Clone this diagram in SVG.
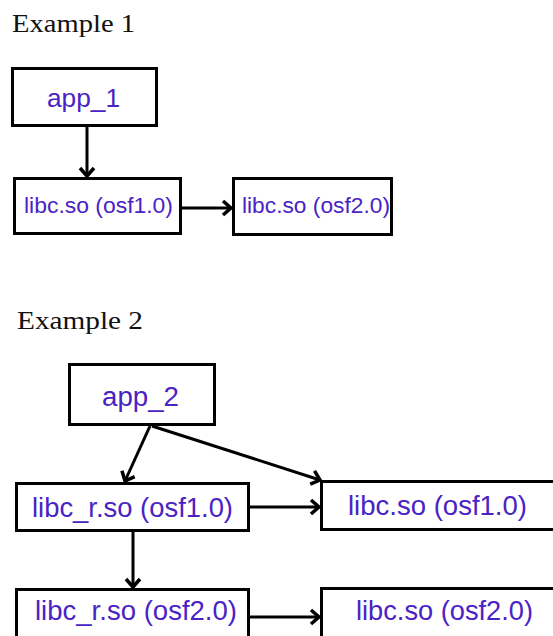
<svg xmlns="http://www.w3.org/2000/svg" width="553" height="636" viewBox="0 0 553 636">
<style>
.box{fill:#fff;stroke:#000;stroke-width:3}
.lbl{font-family:"Liberation Sans",Arial,sans-serif;fill:#4a23c4}
.hd{font-family:"Liberation Serif","Times New Roman",serif;fill:#111;font-size:25px}
.con line{stroke:#000;stroke-width:3;marker-end:url(#ah)}
</style>
<defs>
<marker id="ah" markerUnits="userSpaceOnUse" markerWidth="20" markerHeight="20" refX="0" refY="0" viewBox="-12 -10 14 20" orient="auto" overflow="visible">
<path d="M-8,-7 L0,0 L-8,7" fill="none" stroke="#000" stroke-width="3.5"/>
</marker>
</defs>
<rect width="553" height="636" fill="#fff"/>
<text class="hd" x="12" y="32" textLength="123" lengthAdjust="spacingAndGlyphs">Example 1</text>
<text class="hd" x="17" y="329" textLength="126" lengthAdjust="spacingAndGlyphs">Example 2</text>
<g class="con" id="connectors">
<line x1="87" y1="127" x2="87" y2="176"/>
<line x1="182" y1="208" x2="231" y2="208"/>
<line x1="150" y1="426" x2="125" y2="481"/>
<line x1="152" y1="426" x2="320" y2="480"/>
<line x1="250" y1="507" x2="319" y2="507"/>
<line x1="133" y1="532" x2="133" y2="587"/>
<line x1="250" y1="617" x2="319" y2="617"/>
</g>
<g id="app_1"><rect class="box" x="12.5" y="68.5" width="144" height="57"/><text class="lbl" x="47" y="107" font-size="26" textLength="73" lengthAdjust="spacingAndGlyphs">app_1</text></g>
<g id="libc_osf1_ex1"><rect class="box" x="14.5" y="178.5" width="166" height="55"/><text class="lbl" x="24" y="213" font-size="22" textLength="149" lengthAdjust="spacingAndGlyphs">libc.so (osf1.0)</text></g>
<g id="libc_osf2_ex1"><rect class="box" x="233.5" y="178.5" width="158" height="56"/><text class="lbl" x="242" y="213" font-size="22" textLength="148" lengthAdjust="spacingAndGlyphs">libc.so (osf2.0)</text></g>
<g id="app_2"><rect class="box" x="69.5" y="364.5" width="145" height="60"/><text class="lbl" x="102" y="406" font-size="27" textLength="77" lengthAdjust="spacingAndGlyphs">app_2</text></g>
<g id="libc_r_osf1"><rect class="box" x="16.5" y="483.5" width="232" height="47"/><text class="lbl" x="32" y="517" font-size="27" textLength="201" lengthAdjust="spacingAndGlyphs">libc_r.so (osf1.0)</text></g>
<g id="libc_osf1_ex2"><rect class="box" x="321.5" y="481.5" width="240" height="48"/><text class="lbl" x="348" y="515" font-size="27" textLength="179" lengthAdjust="spacingAndGlyphs">libc.so (osf1.0)</text></g>
<g id="libc_r_osf2"><rect class="box" x="16.5" y="589.5" width="232" height="60"/><text class="lbl" x="35" y="620" font-size="27" textLength="202" lengthAdjust="spacingAndGlyphs">libc_r.so (osf2.0)</text></g>
<g id="libc_osf2_ex2"><rect class="box" x="321.5" y="588.5" width="240" height="60"/><text class="lbl" x="356" y="620" font-size="27" textLength="177" lengthAdjust="spacingAndGlyphs">libc.so (osf2.0)</text></g>
</svg>
